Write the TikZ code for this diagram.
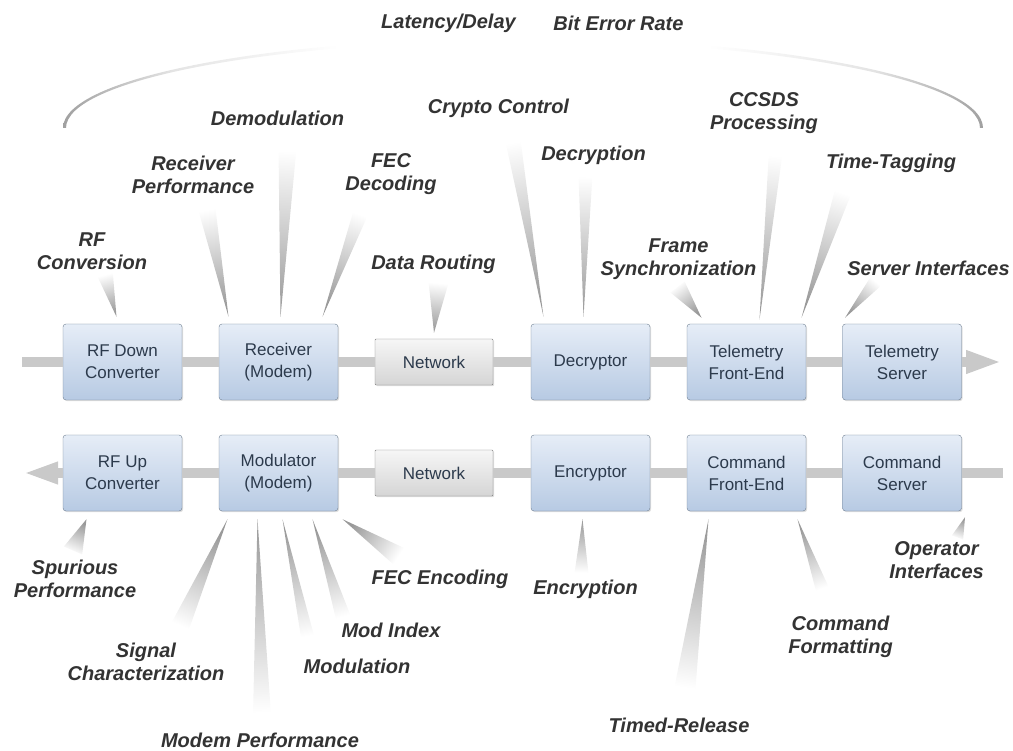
\documentclass[tikz,border=0pt]{standalone}
\usepackage{fontspec}
\setmainfont{Liberation Sans}
\usepackage{tikz}
\usetikzlibrary{calc,shadows,arrows.meta}

\definecolor{boxtop}{HTML}{E6EDF7}
\definecolor{boxbot}{HTML}{B7CAE3}
\definecolor{boxline}{HTML}{6E7E90}
\definecolor{boxtext}{HTML}{2C3A4C}
\definecolor{nettop}{HTML}{F6F6F6}
\definecolor{netbot}{HTML}{D5D5D5}
\definecolor{netline}{HTML}{7F7F7F}
\definecolor{barcol}{HTML}{C9C9C9}
\definecolor{lblcol}{HTML}{333333}
\definecolor{raycol}{HTML}{999999}
\definecolor{arcgray}{HTML}{A0A0A0}
\definecolor{arclight}{HTML}{E4E4E4}

\pgfdeclarehorizontalshading{arcfade}{100bp}{color(0bp)=(arcgray); color(25bp)=(arcgray);
	color(31bp)=(arclight); color(40bp)=(white); color(60bp)=(white);
	color(69bp)=(arclight); color(75bp)=(arcgray); color(100bp)=(arcgray)}

% shaded wedge: wide end, tip, half width
\newcommand{\glowray}[3]{%
  \path #1 coordinate (rw) #2 coordinate (rt);
  \pgfmathanglebetweenpoints{\pgfpointanchor{rt}{center}}{\pgfpointanchor{rw}{center}}%
  \let\rayang\pgfmathresult
  \pgfmathsetmacro\rayang{\rayang-90}%
  \shade[top color=white, bottom color=raycol, shading angle=\rayang]
    ($(rw)!#3pt!90:(rt)$) -- ($(rw)!#3pt!-90:(rt)$) -- (rt) -- cycle;}

\begin{document}
\begin{tikzpicture}[x=1pt, y=-1pt,
	box/.style={draw=boxline, rounded corners=3pt, top color=boxtop, bottom color=boxbot,
		minimum width=119pt, minimum height=76pt, align=center, text=boxtext,
		font=\fontsize{17}{22}\selectfont,
		drop shadow={opacity=0.25, shadow xshift=1.2pt, shadow yshift=-1.2pt}},
	net/.style={box, draw=netline, rounded corners=1pt, top color=nettop, bottom color=netbot,
		minimum width=118pt, minimum height=46pt},
	lbl/.style={text=lblcol, align=center, font=\fontsize{20}{23}\selectfont\bfseries\itshape},
	bar/.style={line width=10pt, draw=barcol}]
	\useasboundingbox (0,0) rectangle (1013,751);

	% top arc
	\shade[shading=arcfade]
		(63,128) arc[x radius=460, y radius=90, start angle=180, end angle=360]
		-- (980,128) arc[x radius=457, y radius=87, start angle=360, end angle=180] -- cycle;
	\node[lbl] (latency) at (448.5,23) {Latency/Delay};
	\node[lbl] (ber) at (618.5,23) {Bit Error Rate};

	% telemetry chain
	\node[box] (rfdown) at (122.5,362) {RF Down\\Converter};
	\node[box] (rx) at (278.5,362) {Receiver\\(Modem)};
	\node[net] (netup) at (434,362) {Network};
	\node[box] (decr) at (590.5,362) {Decryptor};
	\node[box] (tmfe) at (746.5,362) {Telemetry\\Front-End};
	\node[box] (tmsrv) at (902,362) {Telemetry\\Server};

	% command chain
	\node[box] (rfup) at (122.5,473) {RF Up\\Converter};
	\node[box] (mod) at (278.5,473) {Modulator\\(Modem)};
	\node[net] (netdn) at (434,473) {Network};
	\node[box] (encr) at (590.5,473) {Encryptor};
	\node[box] (cmdfe) at (746.5,473) {Command\\Front-End};
	\node[box] (cmdsrv) at (902,473) {Command\\Server};

	\coordinate (inL) at (22,362);
	\coordinate (outR) at (1002,362);
	\coordinate (inR) at (1003,473);
	\coordinate (outL) at (23,473);

	\draw[bar] (inL) -- (rfdown);
	\foreach \a/\b in {rfdown/rx, rx/netup, netup/decr, decr/tmfe, tmfe/tmsrv,
			rfup/mod, mod/netdn, netdn/encr, encr/cmdfe, cmdfe/cmdsrv}
		\draw[bar] (\a) -- (\b);
	\draw[bar, -{Triangle[length=36pt, width=21pt]}] (tmsrv) -- (outR);
	\draw[bar] (inR) -- (cmdsrv);
	\draw[bar, -{Triangle[length=35pt, width=20pt]}] (rfup) -- (outL);

	% labels above
	\node[lbl] (demod) at (277.5,118) {Demodulation};
	\node[lbl] (crypto) at (498.5,108) {Crypto Control};
	\node[lbl] (ccsds) at (764,113.5) {CCSDS\\Processing};
	\node[lbl] (rxperf) at (193,174.5) {Receiver\\Performance};
	\node[lbl] (fecdec) at (391,174.5) {FEC\\Decoding};
	\node[lbl] (decryption) at (593.5,155) {Decryption};
	\node[lbl] (timetag) at (891,163) {Time-Tagging};
	\node[lbl] (rfconv) at (92,251) {RF\\Conversion};
	\node[lbl] (datarout) at (433.5,264.5) {Data Routing};
	\node[lbl] (framesync) at (678.5,259) {Frame\\Synchronization};
	\node[lbl] (srvif) at (928.5,268.5) {Server Interfaces};

	% labels below
	\node[lbl] (spur) at (75,578.5) {Spurious\\Performance};
	\node[lbl] (fecenc) at (440,579) {FEC Encoding};
	\node[lbl] (encryption) at (585.5,589) {Encryption};
	\node[lbl] (opif) at (936.5,560.5) {Operator\\Interfaces};
	\node[lbl] (modindex) at (391,630) {Mod Index};
	\node[lbl] (sigchar) at (146,661.5) {Signal\\Characterization};
	\node[lbl] (modulation) at (357,666.5) {Modulation};
	\node[lbl] (cmdfmt) at (840.5,636.5) {Command\\Formatting};
	\node[lbl] (timedrel) at (679,725) {Timed-Release};
	\node[lbl] (modemperf) at (260,740) {Modem Performance};

	% rays
	\glowray{($(rfconv)+(13,23)$)}{($(rfdown.north)+(-6,-7)$)}{8}
	\glowray{($(rxperf)+(13,30)$)}{($(rx.north)+(-50,-7)$)}{9}
	\glowray{($(demod)+(10,30)$)}{($(rx.north)+(2,-7)$)}{9}
	\glowray{($(fecdec)+(-28,32)$)}{($(rx.north)+(44,-7)$)}{8}
	\glowray{($(datarout)+(5,18)$)}{($(netup.north)+(0,-6)$)}{10}
	\glowray{($(crypto)+(13,24)$)}{($(decr.north)+(-47,-7)$)}{8}
	\glowray{($(decryption)+(-8,20)$)}{($(decr.north)+(-7,-7)$)}{7}
	\glowray{($(framesync)+(-1,28)$)}{($(tmfe.north)+(-45,-6)$)}{9}
	\glowray{($(ccsds)+(12,36)$)}{($(tmfe.north)+(13,-4)$)}{7}
	\glowray{($(timetag)+(-45,20)$)}{($(tmfe.north)+(55,-6)$)}{9}
	\glowray{($(srvif)+(-52,12)$)}{($(tmsrv.north)+(-57,-6)$)}{7}
	\glowray{($(spur)+(-2,-28)$)}{($(rfup.south)+(-36,8)$)}{10}
	\glowray{($(sigchar)+(31,-28)$)}{($(mod.south)+(-51,8)$)}{10}
	\glowray{($(modemperf)+(2,-25)$)}{($(mod.south)+(-21,8)$)}{9}
	\glowray{($(modulation)+(-48,-23)$)}{($(mod.south)+(4,8)$)}{7}
	\glowray{($(modindex)+(-46,-7)$)}{($(mod.south)+(34,8)$)}{8}
	\glowray{($(fecenc)+(-40,-22)$)}{($(mod.south)+(64,8)$)}{10}
	\glowray{($(encryption)+(-4,-16)$)}{($(encr.south)+(-8,8)$)}{7}
	\glowray{($(timedrel)+(5,-30)$)}{($(cmdfe.south)+(-38,8)$)}{11}
	\glowray{($(cmdfmt)+(-17,-44)$)}{($(cmdfe.south)+(51,8)$)}{7}
	\glowray{($(opif)+(21,-23)$)}{($(cmdsrv.south)+(63,6)$)}{6}
\end{tikzpicture}
\end{document}
